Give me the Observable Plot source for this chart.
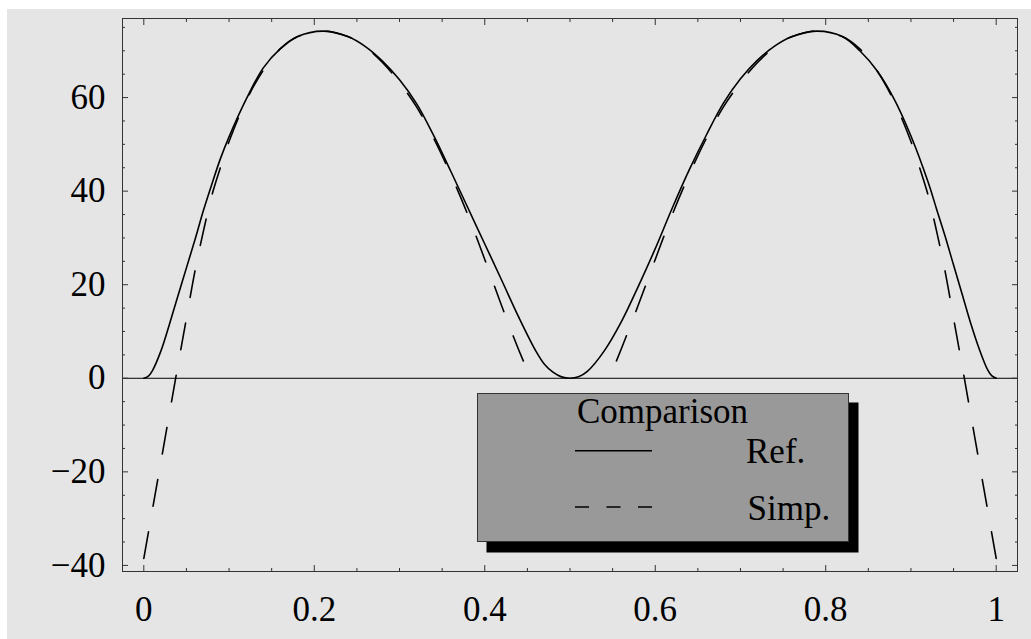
<!DOCTYPE html>
<html>
<head>
<meta charset="utf-8">
<script src="https://cdn.jsdelivr.net/npm/d3@7"></script>
<script src="https://cdn.jsdelivr.net/npm/@observablehq/plot@0.6"></script>
<style>
  html, body { margin: 0; padding: 0; background: #ffffff; }
  #bg { position: absolute; left: 7px; top: 9px; width: 1024px; height: 630px; background: #e5e5e5; }
  #chart { position: absolute; left: 0; top: 0; }
  #legend { position: absolute; left: 0; top: 0; pointer-events: none; }
</style>
</head>
<body>
<div id="bg"></div>
<div id="chart"></div>
<div id="legend"></div>
<script>
// ---- Data ----
const refX = [0, 0.005, 0.01, 0.02, 0.03, 0.04, 0.05, 0.06, 0.07, 0.08, 0.09, 0.10, 0.12, 0.14, 0.16, 0.18, 0.21, 0.24, 0.26, 0.28, 0.30, 0.32, 0.34, 0.36, 0.38, 0.40, 0.42, 0.44, 0.46, 0.47, 0.48, 0.49, 0.50,
  0.51, 0.52, 0.54, 0.56, 0.58, 0.60, 0.62, 0.64, 0.66, 0.68, 0.70, 0.72, 0.74, 0.76, 0.79, 0.82, 0.84, 0.86, 0.88, 0.90, 0.92, 0.93, 0.94, 0.95, 0.96, 0.97, 0.98, 0.99, 0.995, 1.0];
const refY = [0, 0.4, 1.6, 5.8, 11.5, 17.6, 23.6, 29.6, 35.9, 41.6, 47.0, 51.6, 59.6, 66.3, 70.4, 73.0, 74.2, 73.0, 70.9, 67.8, 63.8, 58.7, 51.9, 44.3, 36.5, 28.7, 20.9, 13.0, 5.8, 3.0, 1.3, 0.3, 0,
  0.3, 1.4, 5.8, 12.0, 19.6, 27.7, 36.4, 44.6, 52.0, 58.8, 64.0, 68.0, 71.0, 73.0, 74.2, 73.0, 70.0, 65.8, 59.8, 51.8, 42.0, 36.2, 30.4, 24.2, 18.0, 11.8, 6.3, 1.8, 0.5, 0];

const simpLeftX = [0, 0.01, 0.02, 0.03, 0.04, 0.05, 0.06, 0.07, 0.08, 0.09, 0.10, 0.12, 0.14, 0.16, 0.18, 0.21, 0.24, 0.26, 0.28, 0.30, 0.32, 0.34, 0.36, 0.38, 0.40, 0.42, 0.44, 0.454];
const simpLeftY = [-38.5, -28.2, -17.9, -7.6, 2.7, 12.8, 22.9, 31.5, 39.2, 45.1, 50.6, 59.3, 65.8, 70.4, 73.0, 74.2, 73.0, 70.8, 67.5, 63.2, 58.0, 51.3, 43.6, 35.0, 25.4, 15.4, 6.0, 0];
const simpRightX = [0.546, 0.56, 0.58, 0.60, 0.62, 0.64, 0.66, 0.68, 0.70, 0.72, 0.74, 0.76, 0.79, 0.82, 0.84, 0.86, 0.88, 0.90, 0.91, 0.92, 0.93, 0.94, 0.95, 0.96, 0.97, 0.98, 0.99, 1.0];
const simpRightY = [0, 6.2, 15.6, 25.4, 35.0, 43.6, 51.3, 58.0, 63.2, 67.5, 70.8, 73.0, 74.2, 73.0, 70.4, 65.8, 59.3, 50.6, 45.1, 39.2, 31.5, 22.9, 12.8, 2.7, -7.6, -17.9, -28.2, -38.5];

const xMajor = [0, 0.2, 0.4, 0.6, 0.8, 1];
const xMajorLabels = ["0", "0.2", "0.4", "0.6", "0.8", "1"];
const xMinor = [0.05, 0.1, 0.15, 0.25, 0.3, 0.35, 0.45, 0.5, 0.55, 0.65, 0.7, 0.75, 0.85, 0.9, 0.95];
const yMajor = [-40, -20, 0, 20, 40, 60];
const yMajorLabels = ["\u221240", "\u221220", "0", "20", "40", "60"];
const yMinor = [-35, -30, -25, -15, -10, -5, 5, 10, 15, 25, 30, 35, 45, 50, 55, 65, 70, 75];

const legendTitle = "Comparison";
const legendNames = ["Ref.", "Simp."];

// ---- Build tables ----
const refData = refX.map((x, i) => ({x, y: refY[i]}));
const simpLeft = simpLeftX.map((x, i) => ({x, y: simpLeftY[i]}));
const simpRight = simpRightX.map((x, i) => ({x, y: simpRightY[i]}));

const tickColor = "#333";
const fmt = (labels, values) => d => labels[values.indexOf(d)];

const chart = Plot.plot({
  width: 1031,
  height: 639,
  marginLeft: 122,
  marginRight: 14,
  marginTop: 18,
  marginBottom: 68,
  style: {background: "transparent", fontFamily: "'Liberation Serif', 'Times New Roman', serif", fontSize: "35px", color: "black"},
  x: {domain: [-0.025, 1.025], label: null},
  y: {domain: [-41.3, 76.9], label: null},
  marks: [
    Plot.ruleY([0], {stroke: "black", strokeWidth: 1}),
    Plot.line(refData, {x: "x", y: "y", curve: "catmull-rom", stroke: "black", strokeWidth: 1.6}),
    Plot.line(simpLeft, {x: "x", y: "y", curve: "catmull-rom", stroke: "black", strokeWidth: 1.6, strokeDasharray: "27,26"}),
    Plot.line(simpRight, {x: "x", y: "y", curve: "catmull-rom", sort: {channel: "x", order: "descending"}, stroke: "black", strokeWidth: 1.6, strokeDasharray: "27,26"}),
    Plot.frame({stroke: tickColor, strokeWidth: 1}),
    // bottom
    Plot.axisX(xMajor, {anchor: "bottom", tickSize: -6, text: null, stroke: tickColor}),
    Plot.axisX(xMinor, {anchor: "bottom", tickSize: -3, text: null, stroke: tickColor}),
    Plot.axisX(xMajor, {anchor: "bottom", tickSize: 0, tickPadding: 25, tickFormat: fmt(xMajorLabels, xMajor), fontSize: 35, fill: "black"}),
    // top
    Plot.axisX(xMajor, {anchor: "top", tickSize: -6, text: null, stroke: tickColor}),
    Plot.axisX(xMinor, {anchor: "top", tickSize: -3, text: null, stroke: tickColor}),
    // left
    Plot.axisY(yMajor, {anchor: "left", tickSize: -6, text: null, stroke: tickColor}),
    Plot.axisY(yMinor, {anchor: "left", tickSize: -3, text: null, stroke: tickColor}),
    Plot.axisY(yMajor, {anchor: "left", tickSize: 0, tickPadding: 17, tickFormat: fmt(yMajorLabels, yMajor), fontSize: 35, fill: "black"}),
    // right
    Plot.axisY(yMajor, {anchor: "right", tickSize: -6, text: null, stroke: tickColor}),
    Plot.axisY(yMinor, {anchor: "right", tickSize: -3, text: null, stroke: tickColor})
  ]
});
document.getElementById("chart").appendChild(chart);

// ---- Legend overlay ----
const lg = d3.select("#legend").append("svg")
  .attr("width", 1031).attr("height", 639)
  .style("font-family", "'Liberation Serif', 'Times New Roman', serif");
lg.append("rect").attr("x", 486.5).attr("y", 402.5).attr("width", 372).attr("height", 150).attr("fill", "black");
lg.append("rect").attr("x", 477.5).attr("y", 393.5).attr("width", 371).attr("height", 148)
  .attr("fill", "#999999").attr("stroke", "#333").attr("stroke-width", 1);
lg.append("text").attr("x", 577).attr("y", 422.5).attr("font-size", 35).attr("fill", "black").text(legendTitle);
lg.append("line").attr("x1", 575).attr("x2", 652).attr("y1", 450.7).attr("y2", 450.7)
  .attr("stroke", "black").attr("stroke-width", 1.6);
lg.append("line").attr("x1", 575).attr("x2", 652).attr("y1", 507).attr("y2", 507)
  .attr("stroke", "black").attr("stroke-width", 1.6).attr("stroke-dasharray", "14,17.5");
lg.append("text").attr("x", 746).attr("y", 463).attr("font-size", 35).attr("fill", "black").text(legendNames[0]);
lg.append("text").attr("x", 747.5).attr("y", 519.5).attr("font-size", 35).attr("fill", "black").text(legendNames[1]);
</script>
</body>
</html>
